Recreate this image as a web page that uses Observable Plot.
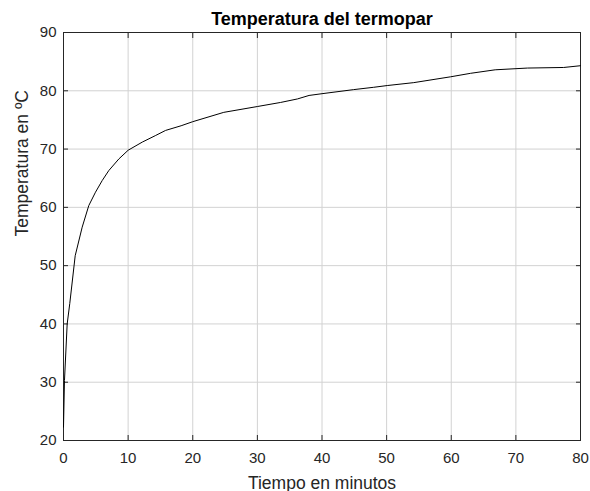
<!DOCTYPE html>
<html>
<head>
<meta charset="utf-8">
<script src="https://cdn.jsdelivr.net/npm/d3@7"></script>
<script src="https://cdn.jsdelivr.net/npm/@observablehq/plot@0.6"></script>
<style>
  html, body { margin: 0; padding: 0; background: #fff; }
  #chart svg { display: block; }
</style>
</head>
<body>
<div id="chart"></div>
<script>
const title = "Temperatura del termopar";
const xLabel = "Tiempo en minutos";
const yLabel = "Temperatura en ºC";
const xTicks = [0, 10, 20, 30, 40, 50, 60, 70, 80];
const yTicks = [20, 30, 40, 50, 60, 70, 80, 90];
const tiempo = [0, 0.15, 0.57, 0.97, 1.81, 2.89, 3.91, 4.95, 5.99, 7.0, 8.56, 10, 12.2, 14.2, 15.8, 18.2, 20, 24.8, 30, 33.6, 36.2, 38, 40, 44.9, 48, 50.1, 54.2, 59.9, 63, 66.8, 71.8, 77.4, 80];
const temperatura = [22.3, 30.3, 40.0, 43.5, 51.7, 56.6, 60.3, 62.6, 64.6, 66.3, 68.3, 69.8, 71.2, 72.3, 73.2, 74.0, 74.7, 76.3, 77.3, 78.0, 78.6, 79.2, 79.5, 80.2, 80.6, 80.9, 81.4, 82.4, 83.0, 83.6, 83.9, 84.0, 84.3];

const data = tiempo.map((t, i) => ({t, T: temperatura[i]}));
const ink = "#262626";
const empty = () => "";

const chart = Plot.plot({
  width: 590,
  height: 491,
  marginLeft: 63,
  marginRight: 10,
  marginTop: 32,
  marginBottom: 51,
  style: {fontFamily: "Liberation Sans, Arial, Helvetica, sans-serif", fontSize: "15px", color: ink, background: "#fff"},
  x: {domain: [0, 80]},
  y: {domain: [20, 90]},
  marks: [
    Plot.gridX(xTicks, {stroke: "#d2d2d2", strokeOpacity: 1, strokeWidth: 1}),
    Plot.gridY(yTicks, {stroke: "#d2d2d2", strokeOpacity: 1, strokeWidth: 1}),
    Plot.axisX(xTicks, {anchor: "bottom", tickSize: -5, tickPadding: 17, stroke: ink, fill: ink, fontSize: 15, label: null}),
    Plot.axisX(xTicks, {anchor: "top", tickSize: -5, tickFormat: empty, stroke: ink, label: null}),
    Plot.axisY(yTicks, {anchor: "left", tickSize: -5, tickPadding: 12, stroke: ink, fill: ink, fontSize: 15, label: null}),
    Plot.axisY(yTicks, {anchor: "right", tickSize: -5, tickFormat: empty, stroke: ink, label: null}),
    Plot.frame({stroke: ink, strokeWidth: 1}),
    Plot.line(data, {x: "t", y: "T", stroke: "#000", strokeWidth: 1}),
    Plot.text([title], {frameAnchor: "top", lineAnchor: "middle", dy: -12.8, fontSize: 18, fontWeight: "bold", fill: "#000"}),
    Plot.text([xLabel], {frameAnchor: "bottom", lineAnchor: "middle", dy: 42.4, fontSize: 17.5, fill: ink}),
    Plot.text([yLabel], {frameAnchor: "left", lineAnchor: "middle", dx: -41, rotate: -90, fontSize: 17.5, fill: ink})
  ]
});
document.getElementById("chart").appendChild(chart);
</script>
</body>
</html>
